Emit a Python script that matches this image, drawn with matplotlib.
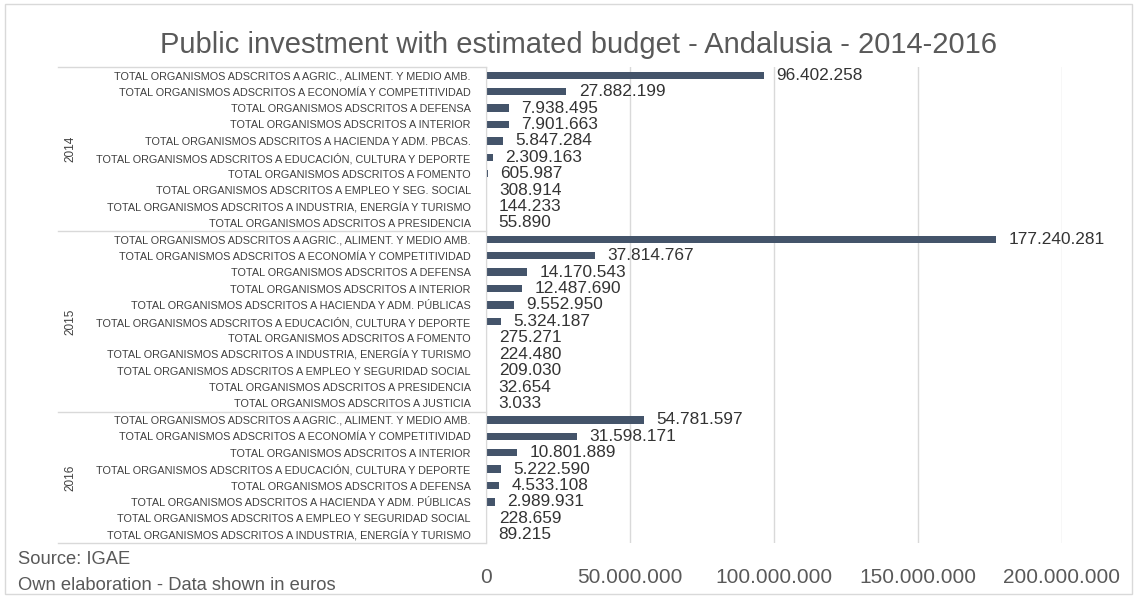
import matplotlib.pyplot as plt
from matplotlib.lines import Line2D
from matplotlib.patches import Rectangle
from matplotlib.transforms import blended_transform_factory
from matplotlib.ticker import FuncFormatter

plt.rcParams['font.family'] = ['Liberation Sans', 'DejaVu Sans']

P = "TOTAL ORGANISMOS ADSCRITOS A "

# ---------- datos ----------
years = ["2014", "2015", "2016"]

cats_2014 = ["AGRIC., ALIMENT. Y MEDIO AMB.", "ECONOMÍA Y COMPETITIVIDAD", "DEFENSA",
             "INTERIOR", "HACIENDA Y ADM. PBCAS.", "EDUCACIÓN, CULTURA Y DEPORTE",
             "FOMENTO", "EMPLEO Y SEG. SOCIAL", "INDUSTRIA, ENERGÍA Y TURISMO",
             "PRESIDENCIA"]
vals_2014 = [96402258, 27882199, 7938495, 7901663, 5847284, 2309163,
             605987, 308914, 144233, 55890]

cats_2015 = ["AGRIC., ALIMENT. Y MEDIO AMB.", "ECONOMÍA Y COMPETITIVIDAD", "DEFENSA",
             "INTERIOR", "HACIENDA Y ADM. PÚBLICAS", "EDUCACIÓN, CULTURA Y DEPORTE",
             "FOMENTO", "INDUSTRIA, ENERGÍA Y TURISMO", "EMPLEO Y SEGURIDAD SOCIAL",
             "PRESIDENCIA", "JUSTICIA"]
vals_2015 = [177240281, 37814767, 14170543, 12487690, 9552950, 5324187,
             275271, 224480, 209030, 32654, 3033]

cats_2016 = ["AGRIC., ALIMENT. Y MEDIO AMB.", "ECONOMÍA Y COMPETITIVIDAD", "INTERIOR",
             "EDUCACIÓN, CULTURA Y DEPORTE", "DEFENSA", "HACIENDA Y ADM. PÚBLICAS",
             "EMPLEO Y SEGURIDAD SOCIAL", "INDUSTRIA, ENERGÍA Y TURISMO"]
vals_2016 = [54781597, 31598171, 10801889, 5222590, 4533108, 2989931,
             228659, 89215]

groups = [(years[0], cats_2014, vals_2014),
          (years[1], cats_2015, vals_2015),
          (years[2], cats_2016, vals_2016)]


def miles(v):
    return f"{int(v):,}".replace(",", ".")


# ---------- figura ----------
fig = plt.figure(figsize=(11.37, 5.96), dpi=100)
fig.patches.append(Rectangle((0.004, 0.004), 0.992, 0.99, transform=fig.transFigure,
                             fill=False, edgecolor='#D9D9D9', linewidth=1))

ax = fig.add_axes([486 / 1137, 1 - 543 / 596, 576 / 1137, 476 / 596])

labels, values = [], []
for _, cats, vals in groups:
    labels += [P + c for c in cats]
    values += vals
pos = list(range(len(values)))

ax.barh(pos, values, height=0.45, color='#44546A')
for y, v in zip(pos, values):
    ax.text(v + 4.3e6, y, miles(v), va='center', ha='left', fontsize=12.4, color='#333333')

ax.set_ylim(len(values) - 0.5, -0.5)
ax.set_xlim(0, 200e6)
ax.set_xticks([0, 50e6, 100e6, 150e6, 200e6])
ax.xaxis.set_major_formatter(FuncFormatter(lambda v, p: miles(v)))
ax.tick_params(axis='x', length=0, pad=18, labelsize=15, labelcolor='#595959')
ax.set_yticks(pos)
ax.set_yticklabels(labels, fontsize=7.85, color='#404040')
ax.tick_params(axis='y', length=0, pad=11)
ax.grid(axis='x', color='#D9D9D9', linewidth=1)
ax.set_axisbelow(True)
for s in ['top', 'right', 'bottom']:
    ax.spines[s].set_visible(False)
ax.spines['left'].set_color('#D9D9D9')

# ---------- eje de categorías multinivel ----------
tr = blended_transform_factory(fig.transFigure, ax.transData)
x0, x1 = 58 / 1137, 486 / 1137
start = -0.5
for year, cats, _ in groups:
    end = start + len(cats)
    fig.add_artist(Line2D([x0, x1], [start, start], transform=tr, color='#D9D9D9', lw=1))
    fig.text(70 / 1137, (start + end) / 2, year, transform=tr, rotation=90,
             ha='center', va='center', fontsize=8.5, color='#404040')
    start = end
fig.add_artist(Line2D([x0, x1], [start, start], transform=tr, color='#D9D9D9', lw=1))

fig.text(578 / 1137, 1 - 45 / 596, "Public investment with estimated budget - Andalusia - 2014-2016",
         ha='center', va='center', fontsize=21, color='#595959')
fig.text(18 / 1137, 1 - 559 / 596, "Source: IGAE", ha='left', va='center',
         fontsize=13.2, color='#595959')
fig.text(18 / 1137, 1 - 586 / 596, "Own elaboration - Data shown in euros", ha='left',
         va='center', fontsize=13.2, color='#595959')

fig.savefig("out.png", dpi=100)
